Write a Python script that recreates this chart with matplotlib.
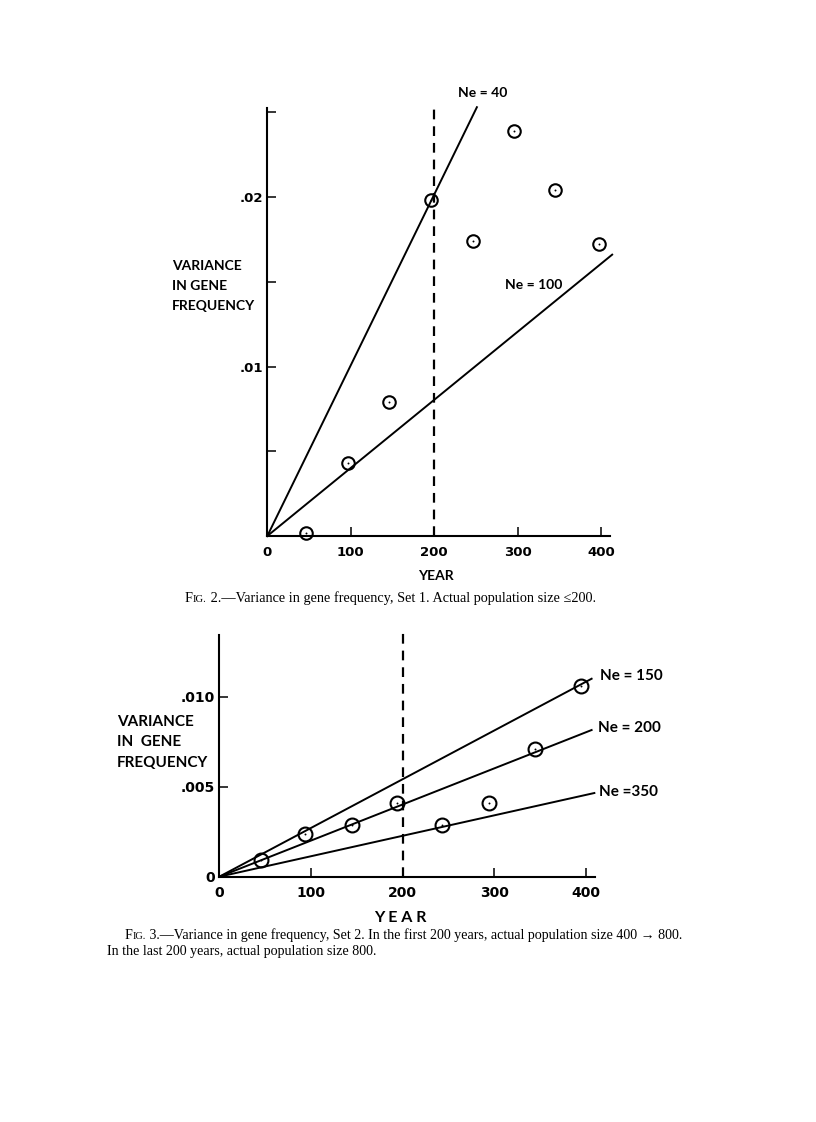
import matplotlib
matplotlib.use("Agg")
import matplotlib.pyplot as plt
from matplotlib.offsetbox import TextArea, HPacker, AnnotationBbox

# --- data ---
# Fig 2, set 1
years1 = [46, 97, 146, 196, 246, 296, 345, 397]
var1 = [0.00016, 0.0043, 0.0079, 0.0198, 0.0174, 0.0239, 0.0204, 0.0172]
ne1 = ["Ne = 40", "Ne = 100"]
ne1_end_year = [251, 413]
ne1_end_var = [0.0253, 0.0166]

# Fig 3, set 2
years2 = [45, 94, 145, 194, 243, 294, 344, 394]
var2 = [0.00093, 0.00235, 0.00287, 0.00408, 0.00287, 0.00408, 0.00709, 0.01059]
ne2 = ["Ne = 150", "Ne = 200", "Ne =350"]
ne2_end_year = [406, 406, 409]
ne2_end_var = [0.0110, 0.00815, 0.00465]

xticks = [0, 100, 200, 300, 400]

W, H = 816, 1122
plt.rcParams['lines.scale_dashes'] = False
sans = ['Lato', 'DejaVu Sans']
nums = ['DejaVu Sans']
serif = ['Liberation Serif', 'DejaVu Serif']

fig = plt.figure(figsize=(W / 100, H / 100), dpi=100)


def box(x0, y0, x1, y1):
    # pixel box -> figure fraction rect
    return [x0 / W, 1 - y1 / H, (x1 - x0) / W, (y1 - y0) / H]


def ftext(x, y, s, **kw):
    fig.text(x / W, 1 - y / H, s, **kw)


def style(ax, fs):
    for s in ['top', 'right']:
        ax.spines[s].set_visible(False)
    for s in ['left', 'bottom']:
        ax.spines[s].set_linewidth(1.5)
    ax.tick_params(direction='in', length=6.5, width=1.1, labelsize=fs)
    ax.tick_params(axis='x', pad=7)
    ax.tick_params(axis='y', pad=3)
    for lab in ax.get_xticklabels() + ax.get_yticklabels():
        lab.set_family(nums)
        lab.set_weight('bold')


def circles(ax, x, y, size):
    ax.plot(x, y, 'o', ms=size, mfc='none', mec='black', mew=1.5, clip_on=False, zorder=5)
    ax.plot(x, y, 'o', ms=1.4, mfc='black', mec='black', mew=0, clip_on=False, zorder=5)


def caption(x, y, num, rest, size):
    parts = [TextArea("F", textprops=dict(family=serif, size=size)),
             TextArea("IG.", textprops=dict(family=serif, size=size * 0.74)),
             TextArea(" " + num + ".\u2014" + rest, textprops=dict(family=serif, size=size))]
    pk = HPacker(children=parts, align="baseline", pad=0, sep=0)
    ab = AnnotationBbox(pk, (x / W, 1 - y / H), xycoords='figure fraction',
                        box_alignment=(0, 0.5), frameon=False)
    fig.add_artist(ab)


# ---------------- Fig 2 ----------------
ax1 = fig.add_axes(box(267.3, 107.7, 610, 536))
ax1.set_xlim(0, 410.4)
ax1.set_ylim(0, 0.02527)
ax1.set_xticks(xticks)
ax1.set_xticklabels([str(t) for t in xticks])
ax1.set_yticks([0.005, 0.01, 0.015, 0.02, 0.025])
ax1.set_yticklabels(['', '.01', '', '.02', ''])
style(ax1, 9.5)

for ey, ev in zip(ne1_end_year, ne1_end_var):
    ax1.plot([0, ey], [0, ev], color='black', lw=1.4, clip_on=False)
ax1.plot([200, 200], [0, 0.02533], color='black', lw=1.6, ls=(0, (7, 5)), clip_on=False)
circles(ax1, years1, var1, 9)

ax1.text(258, 0.02615, ne1[0], ha='center', va='center', fontsize=10, family=sans, weight='bold')
ax1.text(319.5, 0.01481, ne1[1], ha='center', va='center', fontsize=10, family=sans, weight='bold')

for yy, s in zip([266, 286, 306], ['VARIANCE', 'IN GENE', 'FREQUENCY']):
    ftext(171.7, yy, s, ha='left', va='center', fontsize=10, family=sans, weight='bold')
ftext(436, 576, 'YEAR', ha='center', va='center', fontsize=10, family=sans, weight='bold')
caption(185, 597.7, "2", "Variance in gene frequency, Set 1. Actual population size \u2264200.", 10.3)

# ---------------- Fig 3 ----------------
ax2 = fig.add_axes(box(219.3, 635, 595, 876.7))
ax2.set_xlim(0, 409.7)
ax2.set_ylim(0, 0.01343)
ax2.set_xticks(xticks)
ax2.set_xticklabels([str(t) for t in xticks])
ax2.set_yticks([0, 0.005, 0.010])
ax2.set_yticklabels(['0', '.005', '.010'])
style(ax2, 10)

for ey, ev in zip(ne2_end_year, ne2_end_var):
    ax2.plot([0, ey], [0, ev], color='black', lw=1.4, clip_on=False)
ax2.plot([200, 200], [0, 0.0136], color='black', lw=1.6, ls=(0, (7, 5)), clip_on=False)
circles(ax2, years2, var2, 10)

for (yr, v), s in zip([(415, 0.01117), (413, 0.00828), (414, 0.00472)], ne2):
    ax2.text(yr, v, s, ha='left', va='center', fontsize=11, family=sans, weight='bold')

for yy, s in zip([721.7, 742, 762.7], ['VARIANCE', 'IN  GENE', 'FREQUENCY']):
    ftext(116.7, yy, s, ha='left', va='center', fontsize=11, family=sans, weight='bold')
ftext(400, 918, 'Y E A R', ha='center', va='center', fontsize=11.5, family=sans, weight='bold')
caption(125, 935, "3", "Variance in gene frequency, Set 2. In the first 200 years, actual population size 400 \u2192 800.", 10.1)
ftext(107, 951.5, "In the last 200 years, actual population size 800.", ha='left', va='center',
      fontsize=10.1, family=serif)

fig.savefig('out.png', dpi=100, facecolor='white')
